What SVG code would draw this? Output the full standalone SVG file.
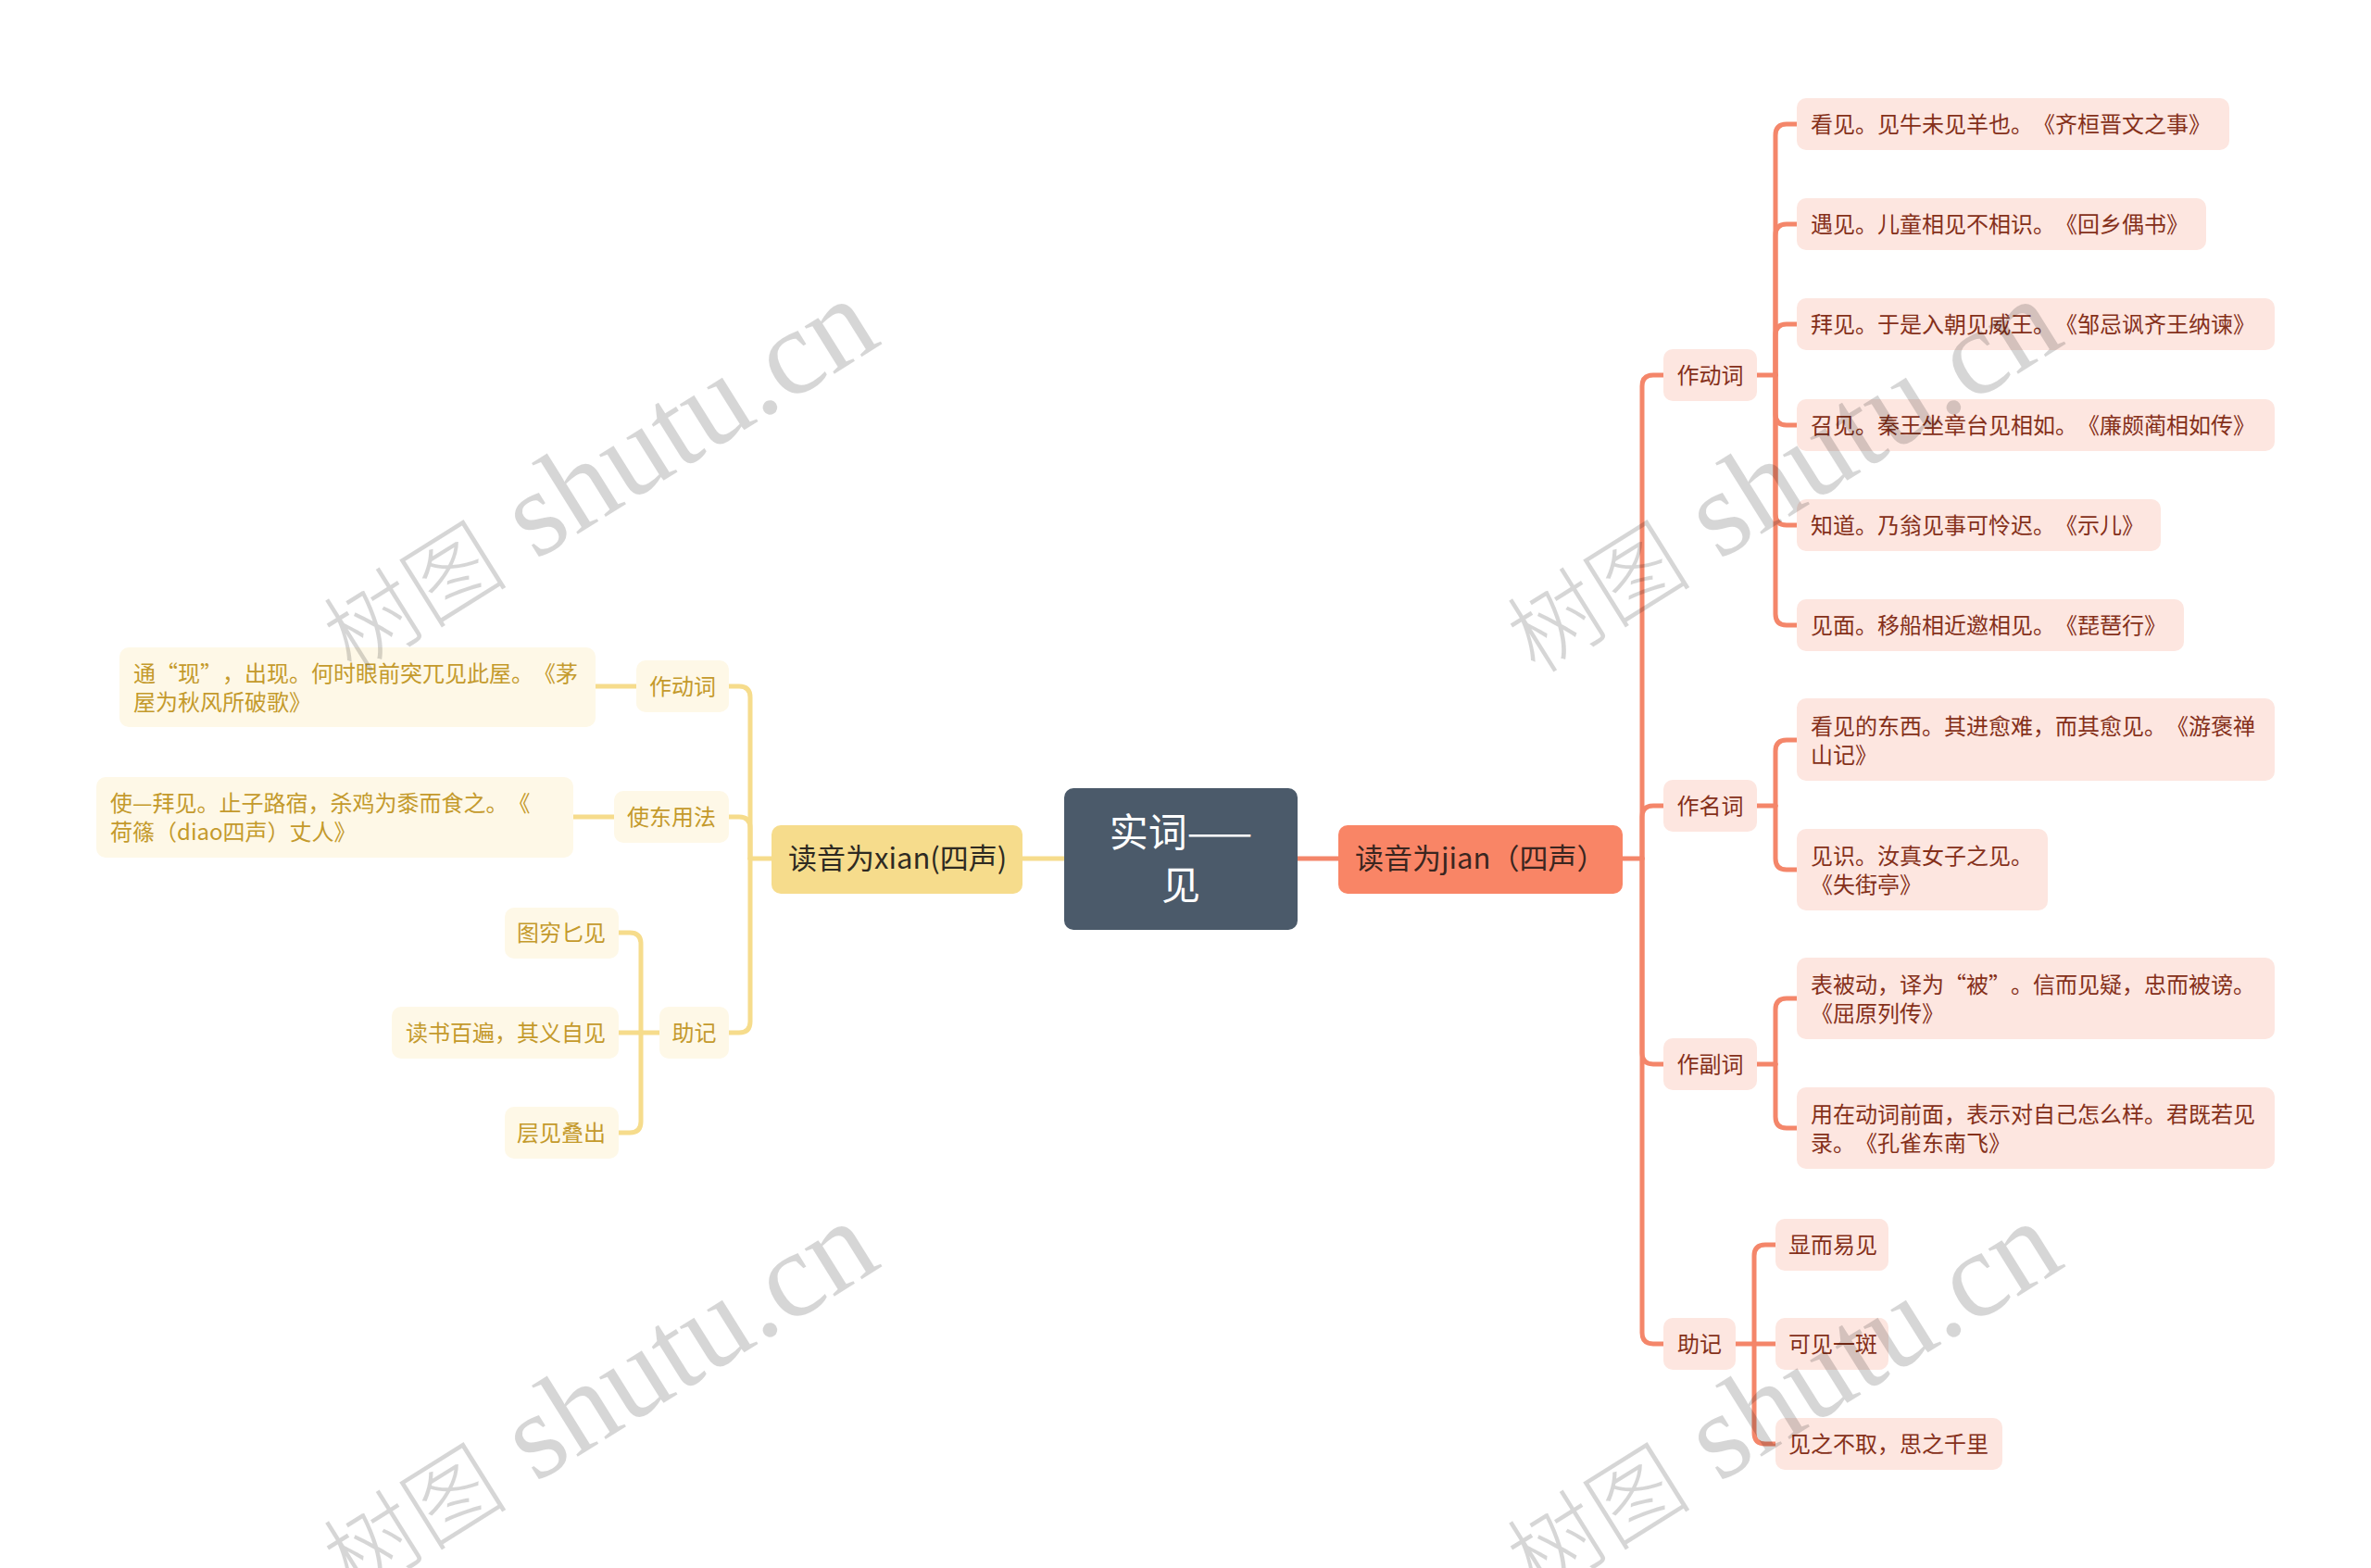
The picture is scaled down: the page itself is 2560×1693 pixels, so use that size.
<svg xmlns="http://www.w3.org/2000/svg" width="2560" height="1693" viewBox="0 0 2560 1693">
<style>
text{font-family:"Noto Sans CJK SC","Noto Sans",sans-serif;text-spacing-trim:space-all;font-kerning:none;}
.conR{fill:none;stroke:#F4866A;stroke-width:5;stroke-linecap:round;stroke-linejoin:round;}
.conL{fill:none;stroke:#F6DC8C;stroke-width:5;stroke-linecap:round;stroke-linejoin:round;}
.leafR{fill:#FDE6E0;}
.leafL{fill:#FEF8E7;}
.tR{font-size:24px;fill:#85301A;}
.tL{font-size:24px;fill:#C49A2C;}
.wm{font-family:"Liberation Serif","Noto Sans CJK SC",serif;font-size:132px;fill:#000;fill-opacity:0.16;}
.wmc{font-family:"Noto Sans CJK SC",serif;font-size:100px;font-weight:300;}
</style>
<rect width="2560" height="1693" fill="#FFFFFF"/>
<g id="connectors">
<path class="conR" d="M1401,927 H1445"/>
<path class="conL" d="M1104,927 H1149"/>
<path class="conR" d="M1752,927 H1773"/>
<path class="conR" d="M1773,927 V417 Q1773,405 1785,405 H1796"/>
<path class="conR" d="M1773,927 V882 Q1773,870 1785,870 H1796"/>
<path class="conR" d="M1773,927 V1137 Q1773,1149 1785,1149 H1796"/>
<path class="conR" d="M1773,927 V1439 Q1773,1451 1785,1451 H1796"/>
<path class="conR" d="M1897,405 H1917"/>
<path class="conR" d="M1917,405 V146 Q1917,134 1929,134 H1940"/>
<path class="conR" d="M1917,405 V254 Q1917,242 1929,242 H1940"/>
<path class="conR" d="M1917,405 V362 Q1917,350 1929,350 H1940"/>
<path class="conR" d="M1917,405 V447 Q1917,459 1929,459 H1940"/>
<path class="conR" d="M1917,405 V555 Q1917,567 1929,567 H1940"/>
<path class="conR" d="M1917,405 V663 Q1917,675 1929,675 H1940"/>
<path class="conR" d="M1897,870 H1917"/>
<path class="conR" d="M1917,870 V811 Q1917,799 1929,799 H1940"/>
<path class="conR" d="M1917,870 V927 Q1917,939 1929,939 H1940"/>
<path class="conR" d="M1897,1149 H1917"/>
<path class="conR" d="M1917,1149 V1090 Q1917,1078 1929,1078 H1940"/>
<path class="conR" d="M1917,1149 V1206 Q1917,1218 1929,1218 H1940"/>
<path class="conR" d="M1874,1451 H1917"/>
<path class="conR" d="M1894,1451 V1356 Q1894,1344 1906,1344 H1917"/>
<path class="conR" d="M1894,1451 V1547 Q1894,1559 1906,1559 H1917"/>
<path class="conL" d="M833,927 H810"/>
<path class="conL" d="M810,927 V753 Q810,741 798,741 H787"/>
<path class="conL" d="M810,927 V894 Q810,882 798,882 H787"/>
<path class="conL" d="M810,927 V1103 Q810,1115 798,1115 H787"/>
<path class="conL" d="M687,741 H643"/>
<path class="conL" d="M663,882 H619"/>
<path class="conL" d="M712,1115 H668"/>
<path class="conL" d="M692,1115 V1019 Q692,1007 680,1007 H668"/>
<path class="conL" d="M692,1115 V1211 Q692,1223 680,1223 H668"/>
</g>
<g id="root">
<rect x="1149" y="851" width="252" height="153" rx="10" fill="#4B5A6A"/>
<text x="1275" y="914" text-anchor="middle" font-size="42" fill="#FFFFFF">实词——</text>
<text x="1275" y="971" text-anchor="middle" font-size="42" fill="#FFFFFF">见</text>
</g>
<g id="jian">
<rect x="1445" y="891" width="307" height="74" rx="10" fill="#F98566"/>
<text x="1463" y="938" font-size="31" fill="#3A2620">读音为jian（四声）</text>
</g>
<g id="xian">
<rect x="833" y="891" width="271" height="74" rx="10" fill="#F6DC8C"/>
<text x="851" y="938" font-size="31" fill="#2E2A22">读音为xian(四声)</text>
</g>
<g id="r-verb">
<rect class="leafR" x="1796" y="377" width="101" height="56" rx="10"/>
<text class="tR" x="1846.5" y="414" text-anchor="middle">作动词</text>
</g>
<g id="r-verb-1"><rect class="leafR" x="1940" y="106" width="467" height="56" rx="10"/><text class="tR" x="1955" y="143">看见。见牛未见羊也。《齐桓晋文之事》</text></g>
<g id="r-verb-2"><rect class="leafR" x="1940" y="214" width="442" height="56" rx="10"/><text class="tR" x="1955" y="251">遇见。儿童相见不相识。《回乡偶书》</text></g>
<g id="r-verb-3"><rect class="leafR" x="1940" y="322" width="516" height="56" rx="10"/><text class="tR" x="1955" y="359">拜见。于是入朝见威王。《邹忌讽齐王纳谏》</text></g>
<g id="r-verb-4"><rect class="leafR" x="1940" y="431" width="516" height="56" rx="10"/><text class="tR" x="1955" y="468">召见。秦王坐章台见相如。《廉颇蔺相如传》</text></g>
<g id="r-verb-5"><rect class="leafR" x="1940" y="539" width="393" height="56" rx="10"/><text class="tR" x="1955" y="576">知道。乃翁见事可怜迟。《示儿》</text></g>
<g id="r-verb-6"><rect class="leafR" x="1940" y="647" width="418" height="56" rx="10"/><text class="tR" x="1955" y="684">见面。移船相近邀相见。《琵琶行》</text></g>
<g id="r-noun">
<rect class="leafR" x="1796" y="842" width="101" height="56" rx="10"/>
<text class="tR" x="1846.5" y="879" text-anchor="middle">作名词</text>
</g>
<g id="r-noun-1"><rect class="leafR" x="1940" y="754" width="516" height="89" rx="10"/><text class="tR" x="1955" y="793">看见的东西。其进愈难，而其愈见。《游褒禅</text><text class="tR" x="1955" y="824">山记》</text></g>
<g id="r-noun-2"><rect class="leafR" x="1940" y="895" width="271" height="88" rx="10"/><text class="tR" x="1955" y="933">见识。汝真女子之见。</text><text class="tR" x="1955" y="964">《失街亭》</text></g>
<g id="r-adv">
<rect class="leafR" x="1796" y="1121" width="101" height="56" rx="10"/>
<text class="tR" x="1846.5" y="1158" text-anchor="middle">作副词</text>
</g>
<g id="r-adv-1"><rect class="leafR" x="1940" y="1034" width="516" height="88" rx="10"/><text class="tR" x="1955" y="1072">表被动，译为“被”。信而见疑，忠而被谤。</text><text class="tR" x="1955" y="1103">《屈原列传》</text></g>
<g id="r-adv-2"><rect class="leafR" x="1940" y="1174" width="516" height="88" rx="10"/><text class="tR" x="1955" y="1212">用在动词前面，表示对自己怎么样。君既若见</text><text class="tR" x="1955" y="1243">录。《孔雀东南飞》</text></g>
<g id="r-memo">
<rect class="leafR" x="1796" y="1423" width="78" height="56" rx="10"/>
<text class="tR" x="1835" y="1460" text-anchor="middle">助记</text>
</g>
<g id="r-memo-1"><rect class="leafR" x="1917" y="1316" width="122" height="56" rx="10"/><text class="tR" x="1931" y="1353">显而易见</text></g>
<g id="r-memo-2"><rect class="leafR" x="1917" y="1423" width="122" height="56" rx="10"/><text class="tR" x="1931" y="1460">可见一斑</text></g>
<g id="r-memo-3"><rect class="leafR" x="1917" y="1531" width="245" height="56" rx="10"/><text class="tR" x="1931" y="1568">见之不取，思之千里</text></g>
<g id="l-verb">
<rect class="leafL" x="687" y="713" width="100" height="56" rx="10"/>
<text class="tL" x="737" y="750" text-anchor="middle">作动词</text>
</g>
<g id="l-verb-1"><rect class="leafL" x="129" y="699" width="514" height="86" rx="10"/><text class="tL" x="144" y="736">通“现”，出现。何时眼前突兀见此屋。《茅</text><text class="tL" x="144" y="767">屋为秋风所破歌》</text></g>
<g id="l-caus">
<rect class="leafL" x="663" y="854" width="124" height="56" rx="10"/>
<text class="tL" x="725" y="891" text-anchor="middle">使东用法</text>
</g>
<g id="l-caus-1"><rect class="leafL" x="104" y="839" width="515" height="87" rx="10"/><text class="tL" x="119" y="876">使—拜见。止子路宿，杀鸡为黍而食之。《</text><text class="tL" x="119" y="907">荷篠（diao四声）丈人》</text></g>
<g id="l-memo">
<rect class="leafL" x="712" y="1087" width="75" height="56" rx="10"/>
<text class="tL" x="749.5" y="1124" text-anchor="middle">助记</text>
</g>
<g id="l-memo-1"><rect class="leafL" x="545" y="980" width="123" height="55" rx="10"/><text class="tL" x="654" y="1016" text-anchor="end">图穷匕见</text></g>
<g id="l-memo-2"><rect class="leafL" x="423" y="1087" width="245" height="56" rx="10"/><text class="tL" x="654" y="1124" text-anchor="end">读书百遍，其义自见</text></g>
<g id="l-memo-3"><rect class="leafL" x="545" y="1195" width="123" height="56" rx="10"/><text class="tL" x="654" y="1232" text-anchor="end">层见叠出</text></g>
<g id="watermarks">
<text class="wm" text-anchor="middle" transform="translate(645,514) rotate(-32)" y="42"><tspan class="wmc">树图</tspan> shutu.cn</text>
<text class="wm" text-anchor="middle" transform="translate(1923,514) rotate(-32)" y="42"><tspan class="wmc">树图</tspan> shutu.cn</text>
<text class="wm" text-anchor="middle" transform="translate(645,1510) rotate(-32)" y="42"><tspan class="wmc">树图</tspan> shutu.cn</text>
<text class="wm" text-anchor="middle" transform="translate(1923,1510) rotate(-32)" y="42"><tspan class="wmc">树图</tspan> shutu.cn</text>
</g>
</svg>
